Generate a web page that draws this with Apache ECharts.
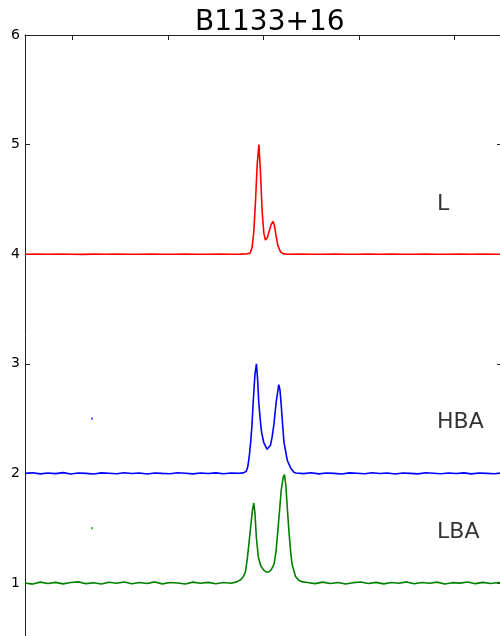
<!DOCTYPE html>
<html>
<head>
<meta charset="utf-8">
<title>B1133+16</title>
<script src="https://cdn.jsdelivr.net/npm/echarts@6/dist/echarts.min.js"></script>
<style>
  html, body { margin: 0; padding: 0; background: #fff; }
  #chart { width: 500px; height: 636px; }
</style>
</head>
<body>
<div id="chart"></div>
<script>
// Integrated pulse profiles of PSR B1133+16 in three bands, offset vertically.
// Each profile is a list of [phase bin, normalised flux + offset].

const lBandProfile = [
  [0,4.0],[12,4.002],[24,3.999],[36,4.001],[48,4.0],[60,3.998],[72,4.001],[84,4.0],
  [96,4.002],[108,3.999],[120,4.0],[132,4.001],[144,3.999],[156,4.0],[168,4.002],[180,4.0],
  [192,3.999],[204,4.001],[216,4.0],[226,4.001],
  [232,4.002],[236,4.01],[238,4.06],[239.8,4.2],[241.6,4.48],[243.4,4.82],[245.2,5.0],
  [246.8,4.75],[248.6,4.39],[250.4,4.19],[252,4.13],[254,4.15],[255.6,4.2],[258,4.27],
  [260,4.30],[261.5,4.26],[262.6,4.2],[265,4.08],[267.9,4.02],[271,4.003],
  [276,4.0],[288,4.002],[300,3.999],[312,4.0],[324,4.001],[336,4.0],[348,3.999],[360,4.002],
  [372,4.0],[384,4.001],[396,3.999],[408,4.0],[420,4.002],[432,4.0],[444,3.999],[456,4.001],
  [468,4.0],[480,4.002],[492,3.999],[500,4.0]
];

const hbaProfile = [
  [0,2.0],[8,2.006],[16,1.996],[24,2.004],[32,1.998],[40,2.007],[48,1.995],[56,2.003],
  [64,2.0],[72,1.994],[80,2.005],[88,2.001],[96,1.997],[104,2.006],[112,1.999],[120,2.003],
  [128,1.995],[136,2.004],[144,2.0],[152,1.997],[160,2.006],[168,2.001],[176,1.996],[184,2.004],
  [192,1.999],[200,2.005],[208,1.997],[216,2.003],[224,2.001],
  [229,2.005],[232,2.02],[233.5,2.06],[235,2.15],[236.6,2.29],[238,2.45],[239,2.62],[241,2.9],
  [242.6,3.0],[243.8,2.86],[245,2.65],[246.5,2.5],[247.9,2.38],[250.3,2.28],[253.8,2.22],
  [257.4,2.26],[259,2.33],[260.8,2.44],[263.3,2.65],[266,2.81],[267.3,2.76],[268.6,2.62],
  [270,2.45],[271.4,2.29],[274.9,2.12],[278.4,2.05],[281.9,2.01],
  [284,2.004],[292,1.998],[300,2.006],[308,1.996],[316,2.003],[324,2.0],[332,1.995],[340,2.005],
  [348,2.001],[356,1.997],[364,2.006],[372,1.999],[380,2.003],[388,1.995],[396,2.004],[404,2.0],
  [412,1.996],[420,2.006],[428,2.002],[436,1.997],[444,2.004],[452,1.999],[460,2.005],[468,1.996],
  [476,2.003],[484,2.0],[492,1.997],[500,2.004]
];

const lbaProfile = [
  [0,1.0],[8,0.99],[16,1.008],[24,0.995],[32,1.006],[40,0.992],[48,1.004],[56,1.01],
  [64,0.994],[72,1.003],[80,0.991],[88,1.007],[96,0.998],[104,1.009],[112,0.993],[120,1.005],
  [128,0.996],[136,1.01],[144,0.992],[152,1.004],[160,1.0],[168,0.991],[176,1.008],[184,0.997],
  [192,1.006],[200,0.993],[208,1.004],[216,0.998],
  [222,1.01],[226,1.03],[229,1.06],[231,1.1],[233,1.22],[235,1.38],[237,1.55],[238.5,1.67],
  [239.8,1.73],[241,1.64],[242.5,1.42],[244.5,1.24],[247,1.16],[250,1.12],[253,1.10],
  [255.6,1.10],[258,1.12],[261,1.17],[263,1.28],[265,1.47],[267,1.68],[268.5,1.84],
  [270.5,1.96],[272,1.99],[273.5,1.88],[275,1.68],[276.6,1.48],[278.5,1.28],[280,1.17],
  [283.6,1.06],[287,1.025],[291,1.01],
  [296,1.004],[304,0.994],[312,1.008],[320,0.996],[328,1.005],[336,0.991],[344,1.003],[352,1.009],
  [360,0.995],[368,1.006],[376,0.992],[384,1.004],[392,0.998],[400,1.01],[408,0.993],[416,1.005],
  [424,0.997],[432,1.008],[440,0.991],[448,1.003],[456,0.999],[464,1.009],[472,0.994],[480,1.006],
  [488,0.996],[496,1.004],[500,0.999]
];

// Isolated single samples
const hbaStray = [[70.2, 2.5]];
const lbaStray = [[70.2, 1.5]];

// Band annotations: [phase, offset level, text]
const bandLabels = [
  [431.9, 4.46, 'L'],
  [431.9, 2.47, 'HBA'],
  [431.9, 1.46, 'LBA']
];

const yTicks = [0, 6, 1];                  // min, max, step
const phaseTicks = [50, 150, 250, 350, 450];

const FONT = 'DejaVu Sans';
const chart = echarts.init(document.getElementById('chart'), null, { renderer: 'canvas' });

function profileSeries(data, color) {
  return {
    type: 'line',
    data: data,
    symbol: 'none',
    smooth: false,
    lineStyle: { color: color, width: 1.6 },
    silent: true
  };
}

function strayDots(data, color) {
  return {
    type: 'scatter',
    data: data,
    symbol: 'rect',
    symbolSize: [2, 2],
    itemStyle: { color: color, opacity: 0.7 },
    silent: true
  };
}

const axisLineStyle = { color: '#222', width: 1 };

chart.setOption({
  animation: false,
  backgroundColor: '#ffffff',
  title: {
    text: 'B1133+16',
    left: 190,
    top: 4,
    textStyle: { fontFamily: FONT, fontSize: 28, fontWeight: 'normal', color: '#000' }
  },
  grid: { left: 25, top: 35, width: 477, height: 657.6, containLabel: false, outerBoundsMode: 'none' },
  xAxis: [
    {
      type: 'value', position: 'top', min: 0, max: 500,
      axisLine: { show: true, onZero: false, lineStyle: axisLineStyle },
      axisTick: { show: true, inside: true, length: 5, customValues: phaseTicks, lineStyle: axisLineStyle },
      axisLabel: { show: false, customValues: phaseTicks },
      splitLine: { show: false }
    },
    {
      type: 'value', position: 'bottom', min: 0, max: 500,
      axisLine: { show: true, onZero: false, lineStyle: axisLineStyle },
      axisTick: { show: false },
      axisLabel: { show: false },
      splitLine: { show: false }
    }
  ],
  yAxis: [
    {
      type: 'value', position: 'left', min: yTicks[0], max: yTicks[1], interval: yTicks[2],
      axisLine: { show: true, onZero: false, lineStyle: axisLineStyle },
      axisTick: { show: true, inside: true, length: 5, lineStyle: axisLineStyle },
      axisLabel: { show: true, fontFamily: FONT, fontSize: 14, color: '#000', margin: 5 },
      splitLine: { show: false }
    },
    {
      type: 'value', position: 'right', min: yTicks[0], max: yTicks[1], interval: yTicks[2],
      axisLine: { show: true, onZero: false, lineStyle: axisLineStyle },
      axisTick: { show: true, inside: true, length: 5, lineStyle: axisLineStyle },
      axisLabel: { show: false },
      splitLine: { show: false }
    }
  ],
  series: [
    profileSeries(lBandProfile, '#ff0000'),
    profileSeries(hbaProfile, '#0000ff'),
    profileSeries(lbaProfile, '#008000'),
    strayDots(hbaStray, '#0000ff'),
    strayDots(lbaStray, '#008000'),
    {
      type: 'scatter',
      data: bandLabels,
      symbolSize: 0,
      silent: true,
      label: {
        show: true,
        position: 'right',
        distance: 0,
        align: 'left',
        verticalAlign: 'middle',
        formatter: p => p.value[2],
        fontFamily: FONT,
        fontSize: 22,
        color: '#000'
      }
    }
  ]
});
</script>
</body>
</html>
